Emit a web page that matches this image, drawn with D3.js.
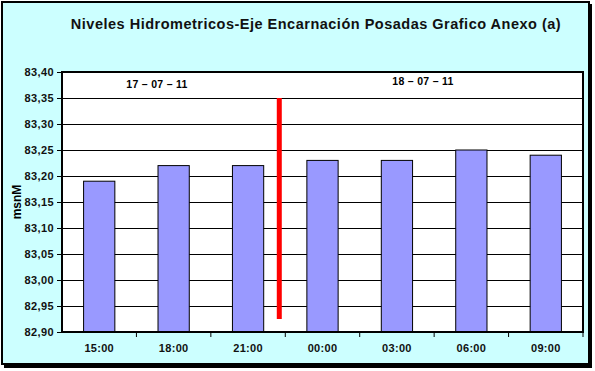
<!DOCTYPE html>
<html>
  <head>
    <meta charset="UTF-8">
    <title>Niveles Hidrometricos</title>
    <style>
      body { margin: 0; background: #fff; }
      text { font-family: "Liberation Sans", Arial, sans-serif; }
    </style>
  </head>
  <body>
    <script src="https://d3js.org/d3.v7.min.js"></script>
    <svg width="595" height="371" id="chart"></svg>
    <script>
      // data
      var horas = ["15:00", "18:00", "21:00", "00:00", "03:00", "06:00", "09:00"];
      var niveles = [83.19, 83.22, 83.22, 83.23, 83.23, 83.25, 83.24];
      var yTicks = [82.90, 82.95, 83.00, 83.05, 83.10, 83.15, 83.20, 83.25, 83.30, 83.35, 83.40];
      var fechas = ["17 – 07 – 11", "18 – 07 – 11"];
      var corte = [83.35, 82.925];   // red divider, top and bottom value

      var svg = d3.select("#chart");

      // background + frame
      svg.append("rect").attr("x", 4).attr("y", 4).attr("width", 588).attr("height", 364)
        .attr("fill", "#000");
      svg.append("rect").attr("x", 2).attr("y", 2).attr("width", 587).attr("height", 362)
        .attr("fill", "#ccffff").attr("stroke", "#000").attr("stroke-width", 2);

      svg.append("text").attr("x", 316).attr("y", 29)
        .attr("text-anchor", "middle").attr("font-size", 14.5).attr("font-weight", "bold")
        .attr("letter-spacing", 0.5).attr("fill", "#111")
        .text("Niveles Hidrometricos-Eje Encarnación Posadas Grafico Anexo (a)");

      var pL = 62, pR = 583, pT = 72, pB = 332;

      var x = d3.scaleBand().domain(horas).range([pL, pR]).padding(0);
      var y = d3.scaleLinear().domain([82.90, 83.40]).range([pB, pT]);

      // plot area
      svg.append("rect").attr("x", pL).attr("y", pT)
        .attr("width", pR - pL).attr("height", pB - pT).attr("fill", "#fff");

      // gridlines
      svg.append("g").selectAll("line").data(yTicks.slice(1, -1)).enter().append("line")
        .attr("x1", pL).attr("x2", pR)
        .attr("y1", function(d) { return Math.round(y(d)) + 0.5; })
        .attr("y2", function(d) { return Math.round(y(d)) + 0.5; })
        .attr("stroke", "#000").attr("stroke-width", 1);

      // bars
      var bw = x.bandwidth() * 0.42;
      svg.append("g").selectAll("rect").data(horas).enter().append("rect")
        .attr("x", function(d) { return x(d) + (x.bandwidth() - bw) / 2; })
        .attr("y", function(d, i) { return y(niveles[i]); })
        .attr("width", bw)
        .attr("height", function(d, i) { return y(82.90) - y(niveles[i]); })
        .attr("fill", "#9999ff").attr("stroke", "#000").attr("stroke-width", 1);

      // red divider between days
      svg.append("line")
        .attr("x1", x("00:00") - 6).attr("x2", x("00:00") - 6)
        .attr("y1", y(corte[0])).attr("y2", y(corte[1]))
        .attr("stroke", "#ff0000").attr("stroke-width", 5);

      // plot border
      svg.append("rect").attr("x", pL).attr("y", pT)
        .attr("width", pR - pL).attr("height", pB - pT)
        .attr("fill", "none").attr("stroke", "#000").attr("stroke-width", 2);

      // y axis
      var yAxis = svg.append("g").attr("transform", "translate(" + pL + ",0)")
        .call(d3.axisLeft(y).tickValues(yTicks).tickSize(5).tickPadding(3)
          .tickFormat(function(d) { return d3.format(".2f")(d).replace(".", ","); }));
      yAxis.select(".domain").remove();
      yAxis.selectAll("line").attr("stroke", "#000");
      yAxis.selectAll("text").attr("font-size", 11).attr("font-weight", "bold")
        .attr("letter-spacing", 0.4)
        .attr("font-family", "Liberation Sans, Arial, sans-serif").attr("fill", "#111");

      // x axis, ticks at category boundaries
      var xAxis = svg.append("g").attr("transform", "translate(0," + pB + ")")
        .call(d3.axisBottom(x).tickSize(0).tickPadding(12));
      xAxis.select(".domain").remove();
      xAxis.selectAll("text").attr("font-size", 11).attr("font-weight", "bold")
        .attr("letter-spacing", 0.3)
        .attr("font-family", "Liberation Sans, Arial, sans-serif").attr("fill", "#111");
      svg.append("g").selectAll("line").data(horas.slice(1).concat(["end"])).enter().append("line")
        .attr("x1", function(d) { return d === "end" ? pR : x(d); })
        .attr("x2", function(d) { return d === "end" ? pR : x(d); })
        .attr("y1", pB).attr("y2", pB + 5)
        .attr("stroke", "#000");

      svg.append("text")
        .attr("transform", "translate(21," + ((pT + pB) / 2) + ") rotate(-90)")
        .attr("text-anchor", "middle").attr("font-size", 12).attr("font-weight", "bold")
        .attr("fill", "#000").text("msnM");

      // day labels
      svg.append("text").attr("x", 157).attr("y", 88).attr("text-anchor", "middle")
        .attr("font-size", 10.5).attr("font-weight", "bold").attr("letter-spacing", 0.3)
        .text(fechas[0]);
      svg.append("text").attr("x", 423).attr("y", 85).attr("text-anchor", "middle")
        .attr("font-size", 10.5).attr("font-weight", "bold").attr("letter-spacing", 0.3)
        .text(fechas[1]);
    </script>
  </body>
</html>
